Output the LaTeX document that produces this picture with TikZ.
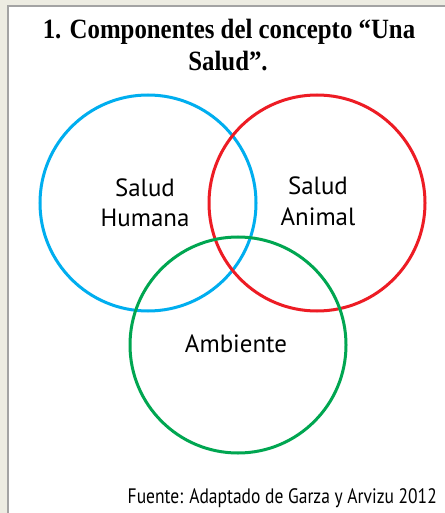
\documentclass[tikz,border=0pt]{standalone}
\usepackage{fontspec}
\setmainfont{Liberation Serif}
\newfontfamily\labfont{PT Sans}
\definecolor{bgbeige}{HTML}{EDECE2}
\definecolor{frameg}{HTML}{A3A3A3}
\definecolor{cblue}{HTML}{00AEEF}
\definecolor{cred}{HTML}{ED1C24}
\definecolor{cgreen}{HTML}{00A651}
\tikzset{
  ring/.style={circle, draw=#1, line width=3bp, minimum size=216bp, inner sep=0pt},
  lab/.style={font=\labfont\fontsize{25}{29}\selectfont, align=center, inner sep=0pt},
  ttl/.style={font=\bfseries\fontsize{28}{32}\selectfont, inner sep=0pt, anchor=base},
}
\begin{document}
\begin{tikzpicture}[x=1bp,y=-1bp]
\useasboundingbox (0,0) rectangle (445,513);
\fill[bgbeige] (0,0) rectangle (445,513);
\draw[frameg, line width=2bp, fill=white] (8,6) rectangle (452,520);
\node[ttl] (t1) at (229,39) {\scalebox{0.89}[1]{1. Componentes del concepto “Una}};
\node[ttl] (t2) at (228,71) {\scalebox{0.89}[1]{Salud”.}};
\node[ring=cblue] (hum) at (148,203) {};
\node[ring=cred] (ani) at (317,203) {};
\node[ring=cgreen] (amb) at (238,345) {};
\node[lab, anchor=base] (lh1) at (145,197) {Salud};
\node[lab, anchor=base] (lh2) at (145,226) {Humana};
\node[lab, anchor=base] (la1) at (318,195) {Salud};
\node[lab, anchor=base] (la2) at (318,225) {Animal};
\node[lab, anchor=base] (le) at (236,352) {Ambiente};
\node[font=\labfont\fontsize{21}{22}\selectfont, inner sep=0pt, anchor=base east] (src) at (437,503) {\scalebox{0.836}[1]{Fuente: Adaptado de Garza y Arvizu 2012}};
\end{tikzpicture}
\end{document}
